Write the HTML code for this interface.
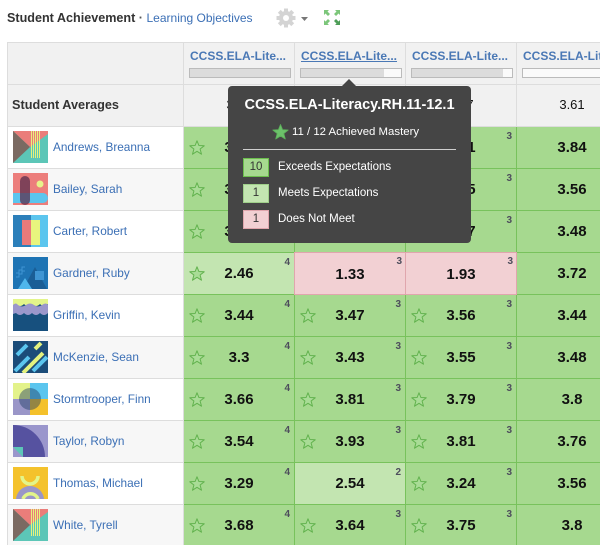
<!DOCTYPE html>
<html><head><meta charset="utf-8">
<style>
*{margin:0;padding:0;box-sizing:border-box}
html,body{width:600px;height:545px;overflow:hidden;background:#fff}
body{font-family:"Liberation Sans",Arial,sans-serif}
#w{position:relative;width:600px;height:545px;overflow:hidden}
.a{position:absolute}
.nm{position:absolute;left:7px;width:177px;height:43px;border:1px solid #ddd;background:#fff}
.nm.g{background:#f7f7f7}
.nm svg{position:absolute;left:5px;top:4px}
.nm span{position:absolute;left:45px;top:0;line-height:41px;font-size:11.8px;color:#3b6fb5;white-space:nowrap}
.c{position:absolute;width:110px;height:41px;background:#a6d98f;overflow:hidden}
.c.m{background:#c3e5b1}
.c.n{width:112px;height:43px;background:#f2d0d3;border:1px solid #e0a6ad}
.v{position:absolute;left:0;top:0;width:100%;line-height:41px;text-align:center;font-weight:bold;font-size:15px;color:#111}
.c.n .v{line-height:43px;top:0}
.s{position:absolute;left:5px;top:13px}
.p{position:absolute;right:4px;top:5px;font-size:10px;font-weight:bold;color:#4d4d5c;line-height:10px}
.c.n .p{right:3px;top:4px}
.hl{position:absolute;top:49px;font-size:12px;font-weight:bold;color:#4a78b5;white-space:nowrap;line-height:14px}
.bar{position:absolute;top:68px;width:102px;height:10px;border:1px solid #bbb;background:#fafafa}
.bar i{display:block;height:100%;background:#dcdcdc}
.av{position:absolute;top:84px;width:110px;line-height:42px;text-align:center;font-size:13px;color:#111}
.vl{position:absolute;top:42px;width:1px;height:85px;background:#ddd}
.lg{position:absolute;left:243px;width:26px;height:19px;text-align:center;line-height:17px;font-size:11.5px;color:#333}
.lt{position:absolute;left:278px;font-size:11.5px;color:#fff;line-height:19px}
</style></head><body><div id="w">

<!-- Title bar -->
<div class="a" style="left:7px;top:10px;line-height:16px;font-size:12.6px;font-weight:bold;color:#333;white-space:nowrap">Student Achievement <span style="font-weight:bold;color:#555">·</span> <span style="font-weight:normal;font-size:12px;color:#3b6fb5">Learning Objectives</span></div>
<svg class="a" style="left:276px;top:8px" width="20" height="20" viewBox="0 0 20 20">
  <g fill="#d4d4d4">
    <rect x="8" y="0.5" width="4" height="19"/>
    <rect x="0.5" y="8" width="19" height="4"/>
    <rect x="8" y="0.5" width="4" height="19" transform="rotate(45 10 10)"/>
    <rect x="8" y="0.5" width="4" height="19" transform="rotate(-45 10 10)"/>
    <circle cx="10" cy="10" r="7"/>
  </g>
  <circle cx="10" cy="10" r="3" fill="#fff"/>
</svg>
<svg class="a" style="left:301px;top:17px" width="8" height="5"><polygon points="0,0 7,0 3.5,4" fill="#777"/></svg>
<svg class="a" style="left:323px;top:9px" width="18" height="17" viewBox="0 0 18 17">
  <g fill="#7cc67a">
    <polygon points="1,1 6,1 4.5,2.5 7,5 5,7 2.5,4.5 1,6"/>
    <polygon points="17,1 12,1 13.5,2.5 11,5 13,7 15.5,4.5 17,6"/>
    <polygon points="1,16 6,16 4.5,14.5 7,12 5,10 2.5,12.5 1,11"/>
  </g>
  <polygon points="17,16 12,16 13.5,14.5 11,12 13,10 15.5,12.5 17,11" fill="#4e9e58"/>
</svg>

<!-- Header rows -->
<div class="a" style="left:7px;top:42px;width:600px;height:43px;background:#f1f1f1;border:1px solid #ddd"></div>
<div class="a" style="left:7px;top:84px;width:600px;height:43px;background:#f1f1f1;border:1px solid #ddd"></div>
<div class="vl" style="left:183px"></div>
<div class="vl" style="left:294px"></div>
<div class="vl" style="left:405px"></div>
<div class="vl" style="left:516px"></div>

<div class="hl" style="left:190px">CCSS.ELA-Lite...</div>
<div class="hl" style="left:301px;text-decoration:underline">CCSS.ELA-Lite...</div>
<div class="hl" style="left:412px">CCSS.ELA-Lite...</div>
<div class="hl" style="left:523px">CCSS.ELA-Lite...</div>
<div class="bar" style="left:189px"><i style="width:100%"></i></div>
<div class="bar" style="left:300px"><i style="width:83%"></i></div>
<div class="bar" style="left:411px"><i style="width:91%"></i></div>
<div class="bar" style="left:522px;width:102px"><i style="width:0"></i></div>

<div class="a" style="left:12px;top:84px;line-height:42px;font-size:12.7px;font-weight:bold;color:#333">Student Averages</div>
<div class="av" style="left:184px">3.31</div>
<div class="av" style="left:295px">3.38</div>
<div class="av" style="left:406px">3.47</div>
<div class="av" style="left:517px">3.61</div>

<!-- Name column -->
<div class="nm" style="top:126px"><svg width="35" height="32"><rect width="35" height="32" fill="#5cc6b7"/><polygon points="0,0 35,0 35,3 17,16" fill="#ea7d7a"/><g stroke="#e6f27c" stroke-width="1"><line x1="18.5" y1="0" x2="18.5" y2="27"/><line x1="20.5" y1="0" x2="20.5" y2="27"/><line x1="22.5" y1="0" x2="22.5" y2="27"/><line x1="24.5" y1="0" x2="24.5" y2="27"/><line x1="26.5" y1="0" x2="26.5" y2="27"/></g><polygon points="0,0 17,16 0,32" fill="#7b6a62"/></svg><span>Andrews, Breanna</span></div>
<div class="nm g" style="top:168px"><svg width="35" height="32"><rect width="35" height="32" fill="#ec7e7c"/><rect x="0" y="20" width="35" height="10" rx="5" fill="#5bc5ee"/><rect x="0" y="20" width="10" height="10" fill="#5bc5ee"/><rect x="7" y="3" width="10" height="29" rx="5" fill="#5b2f4e" opacity="0.75"/><circle cx="27" cy="11" r="3.5" fill="#e8f28a"/></svg><span>Bailey, Sarah</span></div>
<div class="nm" style="top:210px"><svg width="35" height="32"><rect width="35" height="32" fill="#2c7fba"/><rect x="18" y="0" width="17" height="32" fill="#5bc5ee"/><rect x="9" y="5" width="9" height="25" fill="#ea7a7a"/><rect x="18" y="5" width="9" height="25" fill="#e8f57e"/></svg><span>Carter, Robert</span></div>
<div class="nm g" style="top:252px"><svg width="35" height="32"><rect width="35" height="32" fill="#1e74b4"/><polygon points="10,32 22,10 34,32" fill="#1a5e96"/><rect x="22" y="14" width="9" height="9" fill="#3f95d3"/><polygon points="5,32 12,21 19,32" fill="#4fb6ec"/><path d="M3,16 l3,0 l0,-3 l3,0 l0,-3 l3,0 M3,20 l3,0 l0,-3 l3,0 l0,-3 l3,0" stroke="#3f95d3" stroke-width="1" fill="none"/></svg><span>Gardner, Ruby</span></div>
<div class="nm" style="top:294px"><svg width="35" height="32"><rect width="35" height="32" fill="#17507e"/><path d="M0,0 H35 V5 Q31,9 27,5 Q23,9 19,5 Q15,9 11,5 Q7,9 3,5 L0,6Z" fill="#e3f58a"/><path d="M0,6 Q3,3 5,6 Q9,9 13,6 Q17,3 21,6 Q25,9 29,6 Q33,3 35,6 V14 Q31,18 27,14 Q23,18 19,14 Q15,18 11,14 Q7,18 3,14 L0,15Z" fill="#9b97cb"/></svg><span>Griffin, Kevin</span></div>
<div class="nm g" style="top:336px"><svg width="35" height="32"><rect width="35" height="32" fill="#1b4c79"/><g stroke-width="4" stroke-linecap="butt"><line x1="2" y1="30" x2="16" y2="16" stroke="#5bc5ee"/><line x1="10" y1="32" x2="30" y2="12" stroke="#e3f27f"/><line x1="4" y1="14" x2="14" y2="4" stroke="#5bc5ee"/><line x1="20" y1="30" x2="34" y2="16" stroke="#5bc5ee"/><line x1="22" y1="8" x2="28" y2="2" stroke="#e3f27f"/></g></svg><span>McKenzie, Sean</span></div>
<div class="nm" style="top:378px"><svg width="35" height="32"><rect width="17" height="16" fill="#e3f28a"/><rect x="17" width="18" height="16" fill="#5bc5ee"/><rect y="16" width="17" height="16" fill="#9a96c8"/><rect x="17" y="16" width="18" height="16" fill="#f4c12b"/><circle cx="17" cy="16" r="11" fill="#1e3c64" opacity="0.45"/></svg><span>Stormtrooper, Finn</span></div>
<div class="nm g" style="top:420px"><svg width="35" height="32"><rect width="35" height="32" fill="#9a96cc"/><path d="M0,0 A32,32 0 0 1 32,32 H0Z" fill="#5652a0"/><polygon points="0,22 10,22 10,32 0,32" fill="#5cc6b7"/><polygon points="0,22 10,32 0,32" fill="#9a96cc"/></svg><span>Taylor, Robyn</span></div>
<div class="nm" style="top:462px"><svg width="35" height="32"><rect width="35" height="32" fill="#f4c22c"/><circle cx="17" cy="33" r="14" fill="#9a96c8"/><path d="M9,9 A8,8 0 0 0 25,9" stroke="#e3f58a" stroke-width="3.5" fill="none"/><path d="M10,32 A8,8 0 0 1 25,32" stroke="#e3f58a" stroke-width="3.5" fill="none"/></svg><span>Thomas, Michael</span></div>
<div class="nm g" style="top:504px"><svg width="35" height="32"><rect width="35" height="32" fill="#5cc6b7"/><polygon points="0,0 35,0 35,3 17,16" fill="#ea7d7a"/><g stroke="#e6f27c" stroke-width="1"><line x1="18.5" y1="0" x2="18.5" y2="27"/><line x1="20.5" y1="0" x2="20.5" y2="27"/><line x1="22.5" y1="0" x2="22.5" y2="27"/><line x1="24.5" y1="0" x2="24.5" y2="27"/><line x1="26.5" y1="0" x2="26.5" y2="27"/></g><polygon points="0,0 17,16 0,32" fill="#7b6a62"/></svg><span>White, Tyrell</span></div>

<!-- Data grid base (lines) -->
<div class="a" style="left:184px;top:127px;width:416px;height:418px;background:#78c25c"></div>

<!-- Row 1 -->
<div class="c" style="left:184px;top:127px"><svg class="s" width="16" height="15"><polygon points="8,0.8 9.9,5.5 15.2,5.8 11.1,9 12.5,14.2 8,11.3 3.5,14.2 4.9,9 0.8,5.8 6.1,5.5" fill="#a9dc96" stroke="#62b24e" stroke-width="1" stroke-linejoin="round"/></svg><div class="v">3.52</div><div class="p">4</div></div>
<div class="c" style="left:295px;top:127px"><div class="v">3.61</div><div class="p">3</div></div>
<div class="c" style="left:406px;top:127px"><svg class="s" width="16" height="15"><polygon points="8,0.8 9.9,5.5 15.2,5.8 11.1,9 12.5,14.2 8,11.3 3.5,14.2 4.9,9 0.8,5.8 6.1,5.5" fill="#a9dc96" stroke="#62b24e" stroke-width="1" stroke-linejoin="round"/></svg><div class="v">3.81</div><div class="p">3</div></div>
<div class="c" style="left:517px;top:127px"><div class="v">3.84</div></div>
<!-- Row 2 -->
<div class="c" style="left:184px;top:169px"><svg class="s" width="16" height="15"><polygon points="8,0.8 9.9,5.5 15.2,5.8 11.1,9 12.5,14.2 8,11.3 3.5,14.2 4.9,9 0.8,5.8 6.1,5.5" fill="#a9dc96" stroke="#62b24e" stroke-width="1" stroke-linejoin="round"/></svg><div class="v">3.42</div><div class="p">4</div></div>
<div class="c" style="left:295px;top:169px"><div class="v">3.57</div><div class="p">3</div></div>
<div class="c" style="left:406px;top:169px"><svg class="s" width="16" height="15"><polygon points="8,0.8 9.9,5.5 15.2,5.8 11.1,9 12.5,14.2 8,11.3 3.5,14.2 4.9,9 0.8,5.8 6.1,5.5" fill="#a9dc96" stroke="#62b24e" stroke-width="1" stroke-linejoin="round"/></svg><div class="v">3.65</div><div class="p">3</div></div>
<div class="c" style="left:517px;top:169px"><div class="v">3.56</div></div>
<!-- Row 3 -->
<div class="c" style="left:184px;top:211px"><svg class="s" width="16" height="15"><polygon points="8,0.8 9.9,5.5 15.2,5.8 11.1,9 12.5,14.2 8,11.3 3.5,14.2 4.9,9 0.8,5.8 6.1,5.5" fill="#a9dc96" stroke="#62b24e" stroke-width="1" stroke-linejoin="round"/></svg><div class="v">3.38</div><div class="p">4</div></div>
<div class="c" style="left:295px;top:211px"><div class="v">3.49</div><div class="p">3</div></div>
<div class="c" style="left:406px;top:211px"><svg class="s" width="16" height="15"><polygon points="8,0.8 9.9,5.5 15.2,5.8 11.1,9 12.5,14.2 8,11.3 3.5,14.2 4.9,9 0.8,5.8 6.1,5.5" fill="#a9dc96" stroke="#62b24e" stroke-width="1" stroke-linejoin="round"/></svg><div class="v">3.57</div><div class="p">3</div></div>
<div class="c" style="left:517px;top:211px"><div class="v">3.48</div></div>
<!-- Row 4 Gardner -->
<div class="c m" style="left:184px;top:253px"><svg class="s" width="16" height="15"><polygon points="8,0.8 9.9,5.5 15.2,5.8 11.1,9 12.5,14.2 8,11.3 3.5,14.2 4.9,9 0.8,5.8 6.1,5.5" fill="#a9dc96" stroke="#62b24e" stroke-width="1" stroke-linejoin="round"/></svg><div class="v">2.46</div><div class="p">4</div></div>
<div class="c n" style="left:294px;top:252px"><div class="v">1.33</div><div class="p">3</div></div>
<div class="c n" style="left:405px;top:252px"><div class="v">1.93</div><div class="p">3</div></div>
<div class="c" style="left:517px;top:253px"><div class="v">3.72</div></div>
<!-- Row 5 -->
<div class="c" style="left:184px;top:295px"><svg class="s" width="16" height="15"><polygon points="8,0.8 9.9,5.5 15.2,5.8 11.1,9 12.5,14.2 8,11.3 3.5,14.2 4.9,9 0.8,5.8 6.1,5.5" fill="#a9dc96" stroke="#62b24e" stroke-width="1" stroke-linejoin="round"/></svg><div class="v">3.44</div><div class="p">4</div></div>
<div class="c" style="left:295px;top:295px"><svg class="s" width="16" height="15"><polygon points="8,0.8 9.9,5.5 15.2,5.8 11.1,9 12.5,14.2 8,11.3 3.5,14.2 4.9,9 0.8,5.8 6.1,5.5" fill="#a9dc96" stroke="#62b24e" stroke-width="1" stroke-linejoin="round"/></svg><div class="v">3.47</div><div class="p">3</div></div>
<div class="c" style="left:406px;top:295px"><svg class="s" width="16" height="15"><polygon points="8,0.8 9.9,5.5 15.2,5.8 11.1,9 12.5,14.2 8,11.3 3.5,14.2 4.9,9 0.8,5.8 6.1,5.5" fill="#a9dc96" stroke="#62b24e" stroke-width="1" stroke-linejoin="round"/></svg><div class="v">3.56</div><div class="p">3</div></div>
<div class="c" style="left:517px;top:295px"><div class="v">3.44</div></div>
<!-- Row 6 -->
<div class="c" style="left:184px;top:337px"><svg class="s" width="16" height="15"><polygon points="8,0.8 9.9,5.5 15.2,5.8 11.1,9 12.5,14.2 8,11.3 3.5,14.2 4.9,9 0.8,5.8 6.1,5.5" fill="#a9dc96" stroke="#62b24e" stroke-width="1" stroke-linejoin="round"/></svg><div class="v">3.3</div><div class="p">4</div></div>
<div class="c" style="left:295px;top:337px"><svg class="s" width="16" height="15"><polygon points="8,0.8 9.9,5.5 15.2,5.8 11.1,9 12.5,14.2 8,11.3 3.5,14.2 4.9,9 0.8,5.8 6.1,5.5" fill="#a9dc96" stroke="#62b24e" stroke-width="1" stroke-linejoin="round"/></svg><div class="v">3.43</div><div class="p">3</div></div>
<div class="c" style="left:406px;top:337px"><svg class="s" width="16" height="15"><polygon points="8,0.8 9.9,5.5 15.2,5.8 11.1,9 12.5,14.2 8,11.3 3.5,14.2 4.9,9 0.8,5.8 6.1,5.5" fill="#a9dc96" stroke="#62b24e" stroke-width="1" stroke-linejoin="round"/></svg><div class="v">3.55</div><div class="p">3</div></div>
<div class="c" style="left:517px;top:337px"><div class="v">3.48</div></div>
<!-- Row 7 -->
<div class="c" style="left:184px;top:379px"><svg class="s" width="16" height="15"><polygon points="8,0.8 9.9,5.5 15.2,5.8 11.1,9 12.5,14.2 8,11.3 3.5,14.2 4.9,9 0.8,5.8 6.1,5.5" fill="#a9dc96" stroke="#62b24e" stroke-width="1" stroke-linejoin="round"/></svg><div class="v">3.66</div><div class="p">4</div></div>
<div class="c" style="left:295px;top:379px"><svg class="s" width="16" height="15"><polygon points="8,0.8 9.9,5.5 15.2,5.8 11.1,9 12.5,14.2 8,11.3 3.5,14.2 4.9,9 0.8,5.8 6.1,5.5" fill="#a9dc96" stroke="#62b24e" stroke-width="1" stroke-linejoin="round"/></svg><div class="v">3.81</div><div class="p">3</div></div>
<div class="c" style="left:406px;top:379px"><svg class="s" width="16" height="15"><polygon points="8,0.8 9.9,5.5 15.2,5.8 11.1,9 12.5,14.2 8,11.3 3.5,14.2 4.9,9 0.8,5.8 6.1,5.5" fill="#a9dc96" stroke="#62b24e" stroke-width="1" stroke-linejoin="round"/></svg><div class="v">3.79</div><div class="p">3</div></div>
<div class="c" style="left:517px;top:379px"><div class="v">3.8</div></div>
<!-- Row 8 -->
<div class="c" style="left:184px;top:421px"><svg class="s" width="16" height="15"><polygon points="8,0.8 9.9,5.5 15.2,5.8 11.1,9 12.5,14.2 8,11.3 3.5,14.2 4.9,9 0.8,5.8 6.1,5.5" fill="#a9dc96" stroke="#62b24e" stroke-width="1" stroke-linejoin="round"/></svg><div class="v">3.54</div><div class="p">4</div></div>
<div class="c" style="left:295px;top:421px"><svg class="s" width="16" height="15"><polygon points="8,0.8 9.9,5.5 15.2,5.8 11.1,9 12.5,14.2 8,11.3 3.5,14.2 4.9,9 0.8,5.8 6.1,5.5" fill="#a9dc96" stroke="#62b24e" stroke-width="1" stroke-linejoin="round"/></svg><div class="v">3.93</div><div class="p">3</div></div>
<div class="c" style="left:406px;top:421px"><svg class="s" width="16" height="15"><polygon points="8,0.8 9.9,5.5 15.2,5.8 11.1,9 12.5,14.2 8,11.3 3.5,14.2 4.9,9 0.8,5.8 6.1,5.5" fill="#a9dc96" stroke="#62b24e" stroke-width="1" stroke-linejoin="round"/></svg><div class="v">3.81</div><div class="p">3</div></div>
<div class="c" style="left:517px;top:421px"><div class="v">3.76</div></div>
<!-- Row 9 -->
<div class="c" style="left:184px;top:463px"><svg class="s" width="16" height="15"><polygon points="8,0.8 9.9,5.5 15.2,5.8 11.1,9 12.5,14.2 8,11.3 3.5,14.2 4.9,9 0.8,5.8 6.1,5.5" fill="#a9dc96" stroke="#62b24e" stroke-width="1" stroke-linejoin="round"/></svg><div class="v">3.29</div><div class="p">4</div></div>
<div class="c m" style="left:295px;top:463px"><div class="v">2.54</div><div class="p">2</div></div>
<div class="c" style="left:406px;top:463px"><svg class="s" width="16" height="15"><polygon points="8,0.8 9.9,5.5 15.2,5.8 11.1,9 12.5,14.2 8,11.3 3.5,14.2 4.9,9 0.8,5.8 6.1,5.5" fill="#a9dc96" stroke="#62b24e" stroke-width="1" stroke-linejoin="round"/></svg><div class="v">3.24</div><div class="p">3</div></div>
<div class="c" style="left:517px;top:463px"><div class="v">3.56</div></div>
<!-- Row 10 -->
<div class="c" style="left:184px;top:505px"><svg class="s" width="16" height="15"><polygon points="8,0.8 9.9,5.5 15.2,5.8 11.1,9 12.5,14.2 8,11.3 3.5,14.2 4.9,9 0.8,5.8 6.1,5.5" fill="#a9dc96" stroke="#62b24e" stroke-width="1" stroke-linejoin="round"/></svg><div class="v">3.68</div><div class="p">4</div></div>
<div class="c" style="left:295px;top:505px"><svg class="s" width="16" height="15"><polygon points="8,0.8 9.9,5.5 15.2,5.8 11.1,9 12.5,14.2 8,11.3 3.5,14.2 4.9,9 0.8,5.8 6.1,5.5" fill="#a9dc96" stroke="#62b24e" stroke-width="1" stroke-linejoin="round"/></svg><div class="v">3.64</div><div class="p">3</div></div>
<div class="c" style="left:406px;top:505px"><svg class="s" width="16" height="15"><polygon points="8,0.8 9.9,5.5 15.2,5.8 11.1,9 12.5,14.2 8,11.3 3.5,14.2 4.9,9 0.8,5.8 6.1,5.5" fill="#a9dc96" stroke="#62b24e" stroke-width="1" stroke-linejoin="round"/></svg><div class="v">3.75</div><div class="p">3</div></div>
<div class="c" style="left:517px;top:505px"><div class="v">3.8</div></div>

<!-- Tooltip -->
<svg class="a" style="left:341px;top:79px" width="16" height="8"><polygon points="0,8 8,0 16,8" fill="#454545"/></svg>
<div class="a" style="left:228px;top:86px;width:243px;height:157px;background:#454545;border-radius:4px"></div>
<div class="a" style="left:228px;top:96px;width:243px;text-align:center;line-height:18px;font-size:14.5px;font-weight:bold;color:#fff;white-space:nowrap">CCSS.ELA-Literacy.RH.11-12.1</div>
<svg class="a" style="left:272px;top:124px" width="17" height="16"><polygon points="8.5,0.5 10.6,5.7 16.2,6 11.8,9.5 13.3,15 8.5,12 3.7,15 5.2,9.5 0.8,6 6.4,5.7" fill="#6cc16a" stroke="#5cb05a" stroke-width="0.8" stroke-linejoin="round"/></svg>
<div class="a" style="left:292px;top:124px;line-height:16px;font-size:11.4px;color:#fff;white-space:nowrap">11 / 12 Achieved Mastery</div>
<div class="a" style="left:243px;top:149px;width:213px;height:1px;background:#cfcfcf"></div>
<div class="lg" style="top:158px;background:#a6d98f;border:1px solid #6cbf4d">10</div>
<div class="lt" style="top:158px">Exceeds Expectations</div>
<div class="lg" style="top:184px;background:#c3e5b1;border:1px solid #9fd08a">1</div>
<div class="lt" style="top:184px">Meets Expectations</div>
<div class="lg" style="top:210px;background:#f2d0d3;border:1px solid #e0a6ad">1</div>
<div class="lt" style="top:210px">Does Not Meet</div>

</div></body></html>
